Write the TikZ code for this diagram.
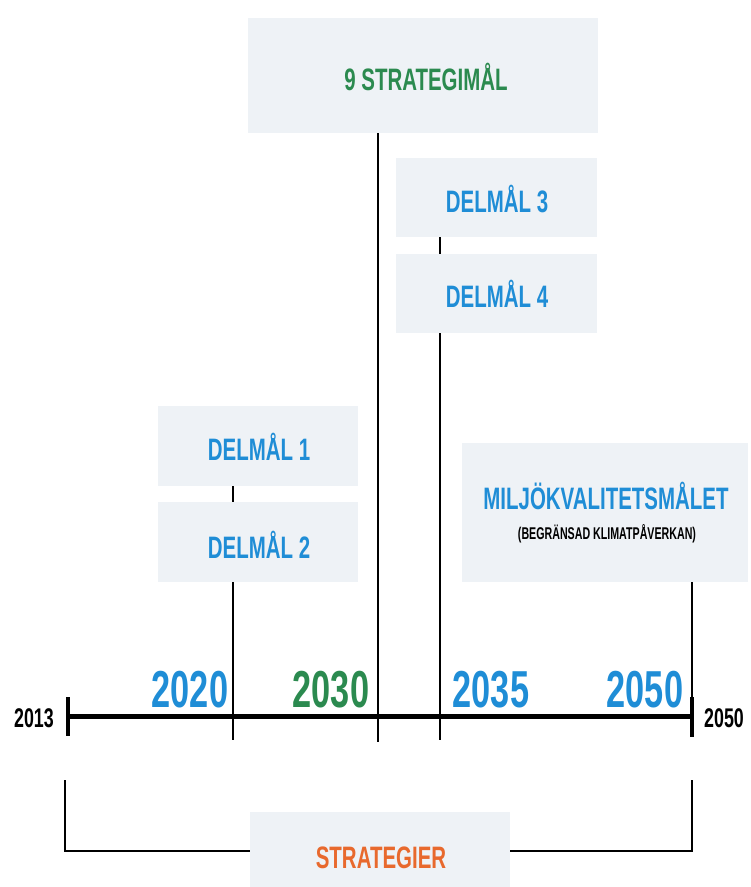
\documentclass[tikz,border=0pt]{standalone}
\usepackage{fontspec}
\newfontfamily\cond[FakeStretch=0.66]{Liberation Sans}
\definecolor{boxgrey}{HTML}{EEF2F6}
\definecolor{miblue}{HTML}{1F8DD6}
\definecolor{migreen}{HTML}{2B8A4F}
\definecolor{miorange}{HTML}{E8692D}
\tikzset{
  goalbox/.style={fill=boxgrey, draw=none, inner sep=0pt},
  goaltext/.style={font=\cond\bfseries\fontsize{31}{31}\selectfont},
  yeartext/.style={font=\cond\bfseries\fontsize{52}{52}\selectfont},
  endtext/.style={font=\cond\bfseries\fontsize{27}{27}\selectfont},
  tline/.style={line width=2pt, black},
}
\begin{document}
\begin{tikzpicture}[x=1pt,y=-1pt]
            \useasboundingbox (0,0) rectangle (751,887);
            % boxes
            \node[goalbox, minimum width=350, minimum height=115] (strat) at (423,75.5) {};
            \node[goalbox, minimum width=201, minimum height=79] (delm3) at (496.5,197.5) {};
            \node[goalbox, minimum width=201, minimum height=79] (delm4) at (496.5,293.5) {};
            \node[goalbox, minimum width=200, minimum height=80] (delm1) at (258,446) {};
            \node[goalbox, minimum width=200, minimum height=80] (delm2) at (258,542) {};
            \node[goalbox, minimum width=286, minimum height=139] (miljo) at (605,512.5) {};
            \node[goalbox, minimum width=260, minimum height=80] (strategier) at (380,852) {};
            
            \node[goaltext, text=migreen] (stratlbl) at (426,77) {9 STRATEGIMÅL};
            \node[goaltext, text=miblue] (delm3lbl) at (497,199) {DELMÅL 3};
            \node[goaltext, text=miblue] (delm4lbl) at (497,294) {DELMÅL 4};
            \node[goaltext, text=miblue] (delm1lbl) at (259,447) {DELMÅL 1};
            \node[goaltext, text=miblue] (delm2lbl) at (259,545) {DELMÅL 2};
            \node[goaltext, text=miblue] (miljolbl) at (606,496) {MILJÖKVALITETSMÅLET};
            \node[font=\cond\bfseries\fontsize{17}{17}\selectfont, xscale=0.95] (miljosub) at (607,534) {(BEGRÄNSAD KLIMATPÅVERKAN)};
            \node[goaltext, text=miorange] (stratglbl) at (381,858) {STRATEGIER};
            
            % timeline
            \coordinate (t2013) at (68,716);
            \coordinate (t2020) at (233,716);
            \coordinate (t2030) at (378,716);
            \coordinate (t2035) at (440,716);
            \coordinate (t2050) at (692,716);
            \draw[line width=5pt] (t2013) -- (t2050);
            \draw[line width=4pt] ([yshift=19]t2013) -- ([yshift=-20]t2013);
            \draw[line width=4pt] ([yshift=19]t2050) -- ([yshift=-21]t2050);
            
            \draw[tline] (delm1.south -| t2020) -- (delm2.north -| t2020);
            \draw[tline] (delm3.south -| t2035) -- (delm4.north -| t2035);
            \draw[tline] (delm2.south -| t2020) -- ([yshift=-24]t2020);
            \draw[tline] (strat.south -| t2030) -- ([yshift=-26]t2030);
            \draw[tline] (delm4.south -| t2035) -- ([yshift=-24]t2035);
            \draw[tline] (miljo.south -| t2050) -- (t2050);
            
            \node[yeartext, text=miblue] (y2020) at (190,690) {2020};
            \node[yeartext, text=migreen] (y2030) at (331,690) {2030};
            \node[yeartext, text=miblue] (y2035) at (491,690) {2035};
            \node[yeartext, text=miblue] (y2050) at (645,690) {2050};
            \node[endtext] (start) at (34,718) {2013};
            \node[endtext] (finish) at (724,718) {2050};
            
            % bracket
            \coordinate (brl) at (65,780);
            \coordinate (brr) at (692,780);
            \draw[line width=2.5pt] (strategier.west |- 0,851) -| (brl);
            \draw[line width=2.5pt] (strategier.east |- 0,851) -| (brr);
            \end{tikzpicture}
\end{document}
